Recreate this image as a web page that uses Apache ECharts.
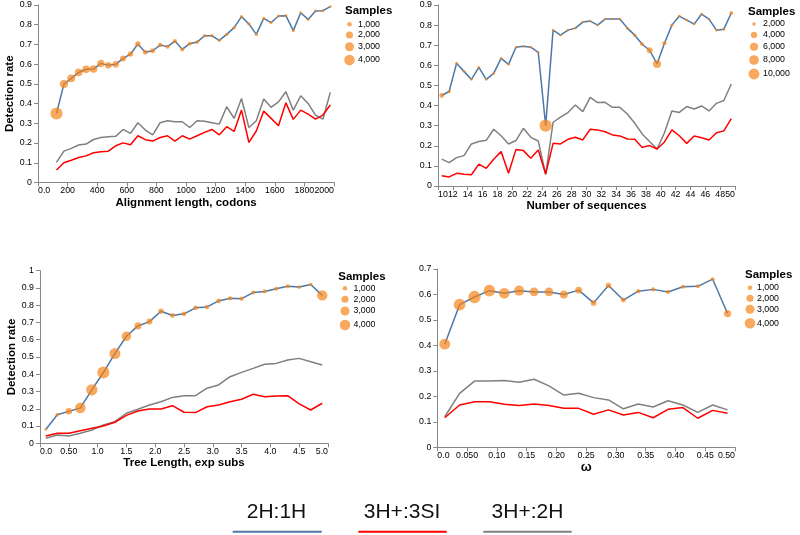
<!DOCTYPE html>
<html><head><meta charset="utf-8">
<script src="https://cdn.jsdelivr.net/npm/echarts@6/dist/echarts.min.js"></script>
<style>html,body{margin:0;padding:0;background:#fff}#c{width:800px;height:535px}</style>
</head><body><div id="c"></div>
<script>
// ---------- DATA ----------
const seriesNames = ['2H:1H', '3H+:3SI', '3H+:2H'];

// Panel 1: alignment length
const p1X = [125,175,225,275,325,375,425,475,525,575,625,675,725,775,825,875,925,975,1025,1075,1125,1175,1225,1275,1325,1375,1425,1475,1525,1575,1625,1675,1725,1775,1825,1875,1925,1975];
const p1Blue = [0.350,0.499,0.528,0.558,0.574,0.575,0.604,0.594,0.599,0.629,0.651,0.702,0.660,0.668,0.697,0.689,0.717,0.675,0.704,0.712,0.744,0.744,0.721,0.751,0.785,0.841,0.804,0.751,0.832,0.811,0.844,0.846,0.770,0.861,0.827,0.870,0.871,0.892];
const p1Red = [0.063,0.100,0.113,0.127,0.135,0.151,0.156,0.159,0.186,0.201,0.191,0.237,0.217,0.210,0.228,0.237,0.210,0.237,0.220,0.237,0.254,0.269,0.242,0.283,0.259,0.367,0.203,0.261,0.362,0.325,0.288,0.404,0.320,0.367,0.347,0.321,0.342,0.393];
const p1Gray = [0.102,0.159,0.173,0.190,0.195,0.218,0.228,0.232,0.234,0.269,0.249,0.303,0.266,0.242,0.303,0.313,0.308,0.308,0.279,0.313,0.310,0.303,0.296,0.384,0.325,0.426,0.279,0.313,0.423,0.381,0.409,0.460,0.367,0.440,0.401,0.342,0.321,0.457];
const p1Samples = [5200,2670,2400,2260,2260,2200,1990,1740,1740,1510,1300,1300,1110,1110,940,940,940,850,800,790,760,740,720,700,690,680,670,660,650,640,630,620,610,600,600,590,580,570];

// Panel 2: number of sequences
const p2X = [10.5,11.5,12.5,13.5,14.5,15.5,16.5,17.5,18.5,19.5,20.5,21.5,22.5,23.5,24.5,25.5,26.5,27.5,28.5,29.5,30.5,31.5,32.5,33.5,34.5,35.5,36.5,37.5,38.5,39.5,40.5,41.5,42.5,43.5,44.5,45.5,46.5,47.5,48.5,49.5];
const p2Blue = [0.45,0.47,0.61,0.57,0.53,0.59,0.53,0.56,0.635,0.605,0.69,0.695,0.69,0.665,0.30,0.775,0.75,0.775,0.785,0.815,0.82,0.80,0.83,0.83,0.83,0.785,0.75,0.705,0.675,0.607,0.71,0.80,0.845,0.825,0.805,0.855,0.83,0.775,0.78,0.86];
const p2Red = [0.051,0.045,0.063,0.058,0.056,0.109,0.088,0.133,0.171,0.063,0.182,0.176,0.138,0.179,0.060,0.212,0.209,0.232,0.242,0.229,0.282,0.279,0.270,0.254,0.249,0.234,0.232,0.192,0.201,0.184,0.219,0.279,0.250,0.212,0.249,0.240,0.229,0.265,0.274,0.335];
const p2Gray = [0.134,0.116,0.141,0.151,0.209,0.221,0.227,0.282,0.250,0.209,0.226,0.287,0.242,0.224,0.057,0.317,0.342,0.365,0.403,0.370,0.441,0.415,0.416,0.391,0.391,0.358,0.312,0.259,0.221,0.184,0.265,0.373,0.366,0.395,0.383,0.398,0.373,0.411,0.425,0.507];
const p2Samples = [2760,1900,1700,1650,1600,1600,1550,1550,1550,1550,1500,1500,1500,1500,12500,1500,1500,1500,1500,1500,1500,1500,1550,1550,1600,1700,1800,2100,3630,5890,2390,1800,1600,1550,1550,1550,1550,1600,1700,2190];

// Panel 3: tree length
const p3X = [0.1,0.3,0.5,0.7,0.9,1.1,1.3,1.5,1.7,1.9,2.1,2.3,2.5,2.7,2.9,3.1,3.3,3.5,3.7,3.9,4.1,4.3,4.5,4.7,4.9];
const p3Blue = [0.08,0.165,0.185,0.205,0.31,0.41,0.52,0.62,0.68,0.705,0.765,0.74,0.75,0.785,0.79,0.825,0.84,0.838,0.873,0.88,0.895,0.91,0.905,0.92,0.857];
const p3Red = [0.042,0.058,0.058,0.073,0.087,0.100,0.122,0.162,0.187,0.199,0.199,0.218,0.180,0.178,0.212,0.222,0.241,0.255,0.284,0.270,0.274,0.276,0.228,0.193,0.232];
const p3Gray = [0.029,0.048,0.042,0.058,0.077,0.106,0.125,0.174,0.197,0.222,0.241,0.266,0.276,0.276,0.319,0.338,0.386,0.411,0.434,0.458,0.463,0.483,0.492,0.473,0.454];
const p3Samples = [550,790,1740,4060,4540,5200,4300,3330,1990,1510,1300,1110,1040,1040,1000,1000,940,940,880,880,850,820,790,740,3910];

// Panel 4: omega
const p4X = [0.0125,0.0375,0.0625,0.0875,0.1125,0.1375,0.1625,0.1875,0.2125,0.2375,0.2625,0.2875,0.3125,0.3375,0.3625,0.3875,0.4125,0.4375,0.4625,0.4875];
const p4Blue = [0.405,0.56,0.59,0.615,0.605,0.615,0.61,0.61,0.60,0.617,0.567,0.635,0.578,0.613,0.62,0.61,0.63,0.632,0.66,0.525];
const p4Red = [0.116,0.166,0.179,0.179,0.169,0.164,0.170,0.164,0.153,0.153,0.130,0.147,0.127,0.137,0.116,0.149,0.156,0.114,0.145,0.134];
const p4Gray = [0.120,0.212,0.260,0.260,0.262,0.255,0.267,0.241,0.205,0.212,0.195,0.186,0.151,0.170,0.158,0.183,0.166,0.137,0.166,0.147];
const p4Samples = [4300,4880,5400,4800,4060,3760,2860,2860,2430,1890,1420,1300,1110,940,900,880,850,820,790,2100];

// size legend values
const legend1Vals = [1000,2000,3000,4000];
const legend2Vals = [2000,4000,6000,8000,10000];
const legend3Vals = [1000,2000,3000,4000];
const legend4Vals = [1000,2000,3000,4000];

// axis titles
const xTitles = ['Alignment length, codons', 'Number of sequences', 'Tree Length, exp subs', 'ω'];
const yTitle = 'Detection rate';

// ---------- STYLE / LAYOUT ----------
const FONT = '"Liberation Sans", Arial, Helvetica, sans-serif';
const colors = ['#4c78a8', '#ff0000', '#808080'];
const pointColor = '#f58518';
const sizeA = s => Math.sqrt(Math.max(5, 0.03 * (s - 300)));
const sizeB = s => Math.sqrt(Math.max(5, 0.0132 * (s - 1000)));

const panels = [
  {x:p1X, b:p1Blue, r:p1Red, g:p1Gray, s:p1Samples, size:sizeA, leg:legend1Vals,
   grid:{left:38, top:5, width:296, height:177.5}, xmin:0, xmax:2000, xint:200, ymax:0.9,
   xfmt: v => v === 0 ? '0.0' : String(v), ytitle:true,
   lg:{tx:345, ty:11, rows:[24.3,35,46.7,60], cx:349.5, lx:358}},
  {x:p2X, b:p2Blue, r:p2Red, g:p2Gray, s:p2Samples, size:sizeB, leg:legend2Vals,
   grid:{left:438, top:5, width:297, height:181}, xmin:10, xmax:50, xint:2, ymax:0.9,
   xfmt: v => String(v), ytitle:false,
   lg:{tx:748, ty:11.7, rows:[24,35,46.7,60,74], cx:754, lx:763}},
  {x:p3X, b:p3Blue, r:p3Red, g:p3Gray, s:p3Samples, size:sizeA, leg:legend3Vals,
   grid:{left:40, top:270.7, width:288, height:172.6}, xmin:0, xmax:5, xint:0.5, ymax:1,
   xfmt: v => v === 0 ? '0.0' : (Math.abs(v-0.5) < 1e-9 ? '0.50' : v.toFixed(1)), ytitle:true,
   lg:{tx:338.3, ty:276.7, rows:[288.3,299.3,311,325], cx:345, lx:353.5}},
  {x:p4X, b:p4Blue, r:p4Red, g:p4Gray, s:p4Samples, size:sizeA, leg:legend4Vals,
   grid:{left:437.3, top:269, width:297.7, height:178.3}, xmin:0, xmax:0.5, xint:0.05, ymax:0.7,
   xfmt: v => v === 0 ? '0.0' : (Math.abs(v-0.05) < 1e-9 ? '0.050' : v.toFixed(2)), ytitle:false,
   lg:{tx:745, ty:275, rows:[287.7,298.3,309.3,323.3], cx:750, lx:757}}
];

const grids = [], xAxes = [], yAxes = [], series = [], graphics = [];
const axisLineStyle = {color:'#888', width:1};
panels.forEach((p, i) => {
  grids.push(Object.assign({outerBoundsMode:'none', containLabel:false}, p.grid));
  xAxes.push({
    type:'value', gridIndex:i, min:p.xmin, max:p.xmax, interval:p.xint,
    name:xTitles[i], nameLocation:'middle', nameGap:13,
    nameTextStyle:{fontFamily:FONT, fontSize:i===3?13:11.5, fontWeight:'bold', color:'#000'},
    axisLine:{show:true, onZero:false, lineStyle:axisLineStyle},
    axisTick:{show:true, length:4, lineStyle:axisLineStyle},
    axisLabel:{fontFamily:FONT, fontSize:8.8, color:'#000', margin:4, formatter:p.xfmt,
               alignMinLabel:'left', alignMaxLabel:'right', showMinLabel:true, showMaxLabel:true, hideOverlap:false},
    splitLine:{show:false}
  });
  yAxes.push({
    type:'value', gridIndex:i, min:0, max:p.ymax, interval:0.1,
    name:p.ytitle ? yTitle : '', nameLocation:'middle', nameRotate:90, nameGap:20,
    nameTextStyle:{fontFamily:FONT, fontSize:11.5, fontWeight:'bold', color:'#000'},
    axisLine:{show:true, onZero:false, lineStyle:axisLineStyle},
    axisTick:{show:true, length:4, lineStyle:axisLineStyle},
    axisLabel:{fontFamily:FONT, fontSize:8.8, color:'#000', margin:6,
               formatter: v => v === 0 ? '0' : (Math.abs(v-1) < 1e-9 ? '1' : v.toFixed(1))},
    splitLine:{show:false}
  });
  const lines = [[p.b, 0], [p.g, 2], [p.r, 1]];
  lines.forEach(([vals, ci]) => {
    series.push({
      type:'line', name:seriesNames[ci], xAxisIndex:i, yAxisIndex:i,
      data:p.x.map((x, k) => [x, vals[k]]), symbol:'none', showSymbol:false,
      lineStyle:{color:colors[ci], width:1.5}, itemStyle:{color:colors[ci]},
      silent:true, z:2
    });
  });
  const sf = p.size;
  series.push({
    type:'scatter', name:'Samples', xAxisIndex:i, yAxisIndex:i,
    data:p.x.map((x, k) => [x, p.b[k], p.s[k]]),
    symbol:'circle', symbolSize: v => sf(v[2]),
    itemStyle:{color:pointColor, opacity:0.7}, silent:true, z:3
  });
  // size legend
  graphics.push({type:'text', x:p.lg.tx, y:p.lg.ty,
    style:{text:'Samples', font:'bold 11.5px ' + FONT, fill:'#000', align:'left', verticalAlign:'middle',
           textAlign:'left', textVerticalAlign:'middle'}});
  p.leg.forEach((v, k) => {
    const d = sf(v);
    graphics.push({type:'circle', shape:{cx:p.lg.cx, cy:p.lg.rows[k], r:d/2},
      style:{fill:pointColor, opacity:0.7}});
    graphics.push({type:'text', x:p.lg.lx, y:p.lg.rows[k],
      style:{text:v.toLocaleString('en-US'), font:'8.8px ' + FONT, fill:'#000', align:'left', verticalAlign:'middle',
             textAlign:'left', textVerticalAlign:'middle'}});
  });
});

// bottom legend
const bottomLegend = [
  {cx:276.5, x1:232.7, x2:321.7},
  {cx:402, x1:358.3, x2:446.7},
  {cx:527.5, x1:483.3, x2:571.7}
];
bottomLegend.forEach((b, k) => {
  graphics.push({type:'text', x:b.cx, y:512,
    style:{text:seriesNames[k], font:'21px ' + FONT, fill:'#111', align:'center', verticalAlign:'middle',
           textAlign:'center', textVerticalAlign:'middle'}});
  graphics.push({type:'line', shape:{x1:b.x1, y1:531.7, x2:b.x2, y2:531.7},
    style:{stroke:colors[k], lineWidth:2}});
});

const chart = echarts.init(document.getElementById('c'), null, {renderer:'canvas'});
chart.setOption({
  animation:false,
  backgroundColor:'#fff',
  grid:grids, xAxis:xAxes, yAxis:yAxes, series:series,
  graphic:{elements:graphics}
});
</script></body></html>
